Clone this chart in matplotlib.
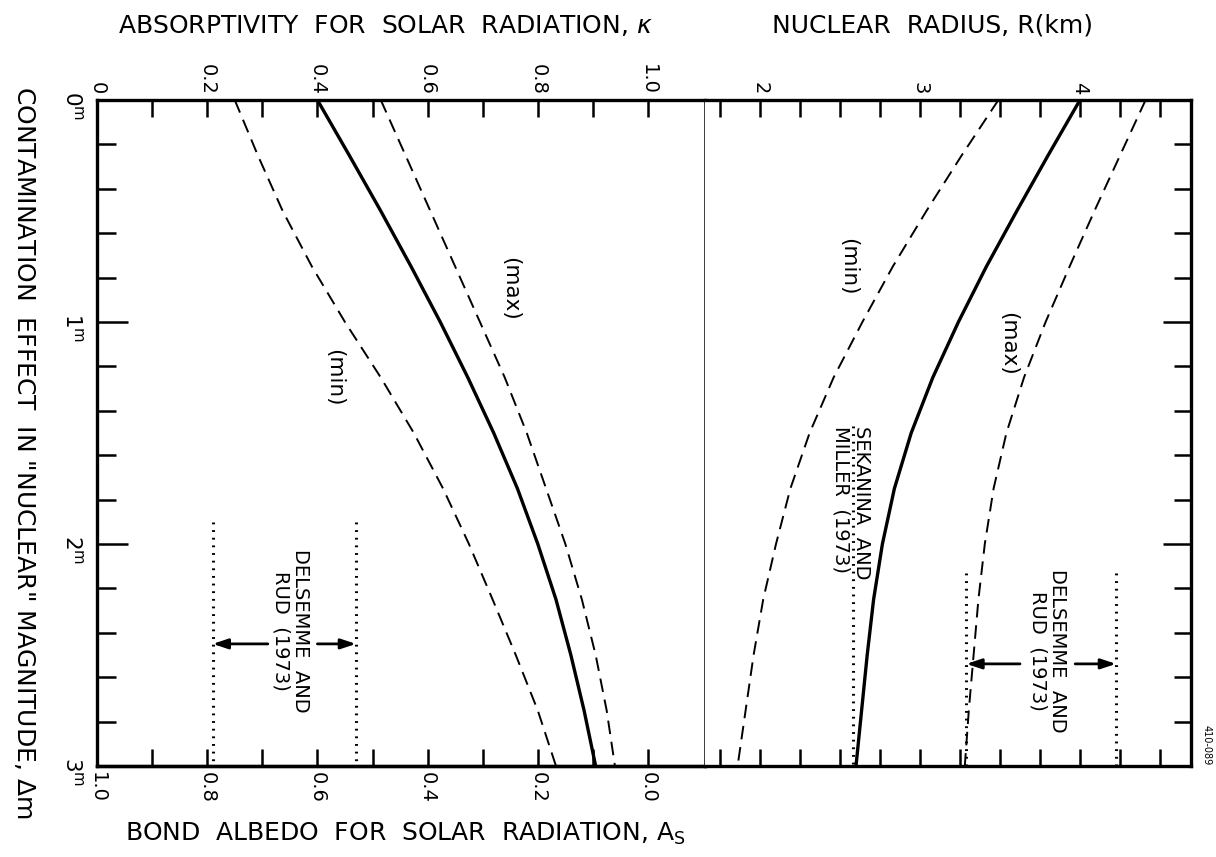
import matplotlib
matplotlib.use('Agg')
import matplotlib.pyplot as plt
from matplotlib.ticker import FixedLocator, FixedFormatter

# ---------------- data ----------------
dm = [0, 0.25, 0.5, 0.75, 1.0, 1.25, 1.5, 1.75, 2.0, 2.25, 2.5, 2.75, 3.0]

kappa_nom = [0.40, 0.458, 0.515, 0.57, 0.623, 0.673, 0.72, 0.763, 0.80, 0.833, 0.86, 0.884, 0.905]
kappa_min = [0.25, 0.292, 0.337, 0.39, 0.45, 0.515, 0.575, 0.628, 0.675, 0.718, 0.76, 0.80, 0.833]
kappa_max = [0.515, 0.56, 0.605, 0.65, 0.695, 0.74, 0.78, 0.815, 0.85, 0.88, 0.905, 0.925, 0.94]

radius_nom = [4.00, 3.80, 3.605, 3.415, 3.24, 3.08, 2.945, 2.84, 2.765, 2.71, 2.67, 2.635, 2.60]
radius_min = [3.49, 3.26, 3.04, 2.83, 2.64, 2.46, 2.31, 2.19, 2.10, 2.02, 1.96, 1.91, 1.86]
radius_max = [4.41, 4.25, 4.09, 3.935, 3.785, 3.65, 3.54, 3.46, 3.405, 3.365, 3.335, 3.305, 3.28]

# reference ranges (dotted lines)
delsemme_kappa = [0.21, 0.47]
delsemme_radius = [3.29, 4.225]
sekanina_radius = [2.58]

kappa_ticks = [0.0, 0.1, 0.2, 0.3, 0.4, 0.5, 0.6, 0.7, 0.8, 0.9, 1.0]
kappa_labels = ['0', '', '0.2', '', '0.4', '', '0.6', '', '0.8', '', '1.0']
albedo_ticks = [1.0, 0.9, 0.8, 0.7, 0.6, 0.5, 0.4, 0.3, 0.2, 0.1, 0.0]
albedo_labels = ['1.0', '', '0.8', '', '0.6', '', '0.4', '', '0.2', '', '0.0']
radius_ticks = [1.75, 2.0, 2.25, 2.5, 2.75, 3.0, 3.25, 3.5, 3.75, 4.0, 4.25, 4.5]
radius_labels = ['', '2', '', '', '', '3', '', '', '', '4', '', '']
dm_major = [0, 1, 2, 3]
dm_major_labels = [r'$0^{\mathrm{m}}$', r'$1^{\mathrm{m}}$', r'$2^{\mathrm{m}}$', r'$3^{\mathrm{m}}$']
dm_minor = [0.2, 0.4, 0.6, 0.8, 1.2, 1.4, 1.6, 1.8, 2.2, 2.4, 2.6, 2.8]

# ---------------- figure ----------------
W, H = 1216, 857
fig = plt.figure(figsize=(W / 100, H / 100), dpi=100)
plt.rcParams['font.family'] = ['DejaVu Sans']

x0, x_div, x1 = 97, 705, 1191
y_top, y_bot = 100, 766
axL = fig.add_axes([x0 / W, 1 - y_bot / H, (x_div - x0) / W, (y_bot - y_top) / H])
axR = fig.add_axes([x_div / W, 1 - y_bot / H, (x1 - x_div) / W, (y_bot - y_top) / H])

kmax = (x_div - x0) / 551.0
axL.set_xlim(0, kmax)
axL.set_ylim(3, 0)
axR.set_xlim(2 - (760 - x_div) / 160, 2 + (x1 - 760) / 160)
axR.set_ylim(3, 0)

lw_solid = 2.4
lw_dash = 1.4
dash = (0, (7, 4))
dot = (0, (0.6, 1.9))

# left panel curves
axL.plot(kappa_nom, dm, color='black', lw=lw_solid, solid_capstyle='butt',
         solid_joinstyle='round')
axL.plot(kappa_min, dm, color='black', lw=lw_dash, linestyle=dash)
axL.plot(kappa_max, dm, color='black', lw=lw_dash, linestyle=dash)
# right panel curves
axR.plot(radius_nom, dm, color='black', lw=lw_solid, solid_capstyle='butt',
         solid_joinstyle='round')
axR.plot(radius_min, dm, color='black', lw=lw_dash, linestyle=dash)
axR.plot(radius_max, dm, color='black', lw=lw_dash, linestyle=dash)

# dotted reference lines
for k in delsemme_kappa:
    axL.plot([k, k], [1.90, 3.0], color='black', lw=2.2, linestyle=dot)
for r in delsemme_radius:
    axR.plot([r, r], [2.13, 3.0], color='black', lw=2.2, linestyle=dot)
for r in sekanina_radius:
    axR.plot([r, r], [1.47, 3.0], color='black', lw=2.2, linestyle=dot)

# arrows
aprops = dict(arrowstyle='-|>,head_length=0.9,head_width=0.3', color='black', lw=2.0,
              shrinkA=0, shrinkB=0)
axL.annotate('', xy=(delsemme_kappa[0], 2.45), xytext=(0.31, 2.45), arrowprops=aprops)
axL.annotate('', xy=(delsemme_kappa[1], 2.45), xytext=(0.40, 2.45), arrowprops=aprops)
axR.annotate('', xy=(delsemme_radius[0], 2.54), xytext=(3.625, 2.54), arrowprops=aprops)
axR.annotate('', xy=(delsemme_radius[1], 2.54), xytext=(3.97, 2.54), arrowprops=aprops)

# annotations
tkw = dict(rotation=-90, ha='center', va='center', fontsize=14, linespacing=1.05)
axL.text(0.352, 2.39, 'DELSEMME  AND\nRUD  (1973)', multialignment='center', **tkw)
axR.text(3.80, 2.48, 'DELSEMME  AND\nRUD  (1973)', multialignment='center', **tkw)
axR.text(2.57, 1.47, 'SEKANINA  AND\nMILLER  (1973)', multialignment='left',
         rotation=-90, ha='center', va='top', fontsize=14, linespacing=1.05)
lkw = dict(rotation=-90, ha='center', va='center', fontsize=15.5)
axL.text(0.75, 0.85, '(max)', **lkw)
axL.text(0.43, 1.25, '(min)', **lkw)
axR.text(2.55, 0.75, '(min)', **lkw)
axR.text(3.55, 1.10, '(max)', **lkw)

# ---------------- axes styling ----------------
for ax in (axL, axR):
    for s in ax.spines.values():
        s.set_linewidth(2.4)
axR.spines['left'].set_visible(False)
axL.spines['right'].set_linewidth(1.8)

# left axes: kappa on top, Δm on left
axL.xaxis.set_ticks_position('top')
axL.xaxis.set_major_locator(FixedLocator(kappa_ticks))
axL.xaxis.set_major_formatter(FixedFormatter(kappa_labels))
axL.tick_params(axis='x', which='major', direction='in', length=12, width=1.8,
                labelsize=14, labelrotation=-90, pad=4)
for lab in axL.get_xticklabels():
    lab.set_va('bottom')

axL.yaxis.set_ticks_position('left')
axL.yaxis.set_major_locator(FixedLocator(dm_major))
axL.yaxis.set_major_formatter(FixedFormatter(dm_major_labels))
axL.yaxis.set_minor_locator(FixedLocator(dm_minor))
axL.tick_params(axis='y', which='major', direction='in', length=22, width=1.8,
                labelsize=15.5, labelrotation=-90, pad=10)
axL.tick_params(axis='y', which='minor', direction='in', length=14, width=1.8)

# bottom albedo axis
sec = axL.secondary_xaxis('bottom', functions=(lambda k: 1 - k, lambda a: 1 - a))
sec.xaxis.set_major_locator(FixedLocator(albedo_ticks))
sec.xaxis.set_major_formatter(FixedFormatter(albedo_labels))
sec.tick_params(axis='x', direction='in', length=12, width=1.8, labelsize=14,
                labelrotation=-90, pad=4)
sec.spines['bottom'].set_linewidth(2.4)
for lab in sec.get_xticklabels():
    lab.set_va('top')

# right axes: R on top and bottom, Δm ticks on right
axR.xaxis.set_ticks_position('both')
axR.xaxis.set_major_locator(FixedLocator(radius_ticks))
axR.xaxis.set_major_formatter(FixedFormatter(radius_labels))
axR.tick_params(axis='x', which='major', direction='in', length=12, width=1.8,
                labelsize=14, labelrotation=-90, labeltop=True, labelbottom=False, pad=4)
for lab in axR.get_xticklabels():
    lab.set_va('bottom')
axR.yaxis.set_ticks_position('right')
axR.yaxis.set_major_locator(FixedLocator(dm_major))
axR.yaxis.set_minor_locator(FixedLocator(dm_minor))
axR.tick_params(axis='y', which='major', direction='in', length=20, width=1.8,
                labelright=False, labelleft=False)
axR.tick_params(axis='y', which='minor', direction='in', length=12, width=1.8)

# ---------------- titles ----------------
fig.text(385 / W, 1 - 26 / H, 'ABSORPTIVITY  FOR  SOLAR  RADIATION, $\\kappa$',
         ha='center', va='center', fontsize=18)
fig.text(932 / W, 1 - 26 / H, 'NUCLEAR  RADIUS, R(km)', ha='center', va='center', fontsize=18)
fig.text(405 / W, 1 - 834 / H, 'BOND  ALBEDO  FOR  SOLAR  RADIATION, A$_{\\mathrm{S}}$',
         ha='center', va='center', fontsize=18)
fig.text(24 / W, 1 - 452 / H,
         'CONTAMINATION  EFFECT  IN "NUCLEAR" MAGNITUDE, $\\Delta$m',
         ha='center', va='center', rotation=-90, fontsize=18)
fig.text(1207 / W, 1 - 745 / H, '410-089', ha='center', va='center', rotation=-90, fontsize=7)

fig.savefig('out.png', dpi=100)
